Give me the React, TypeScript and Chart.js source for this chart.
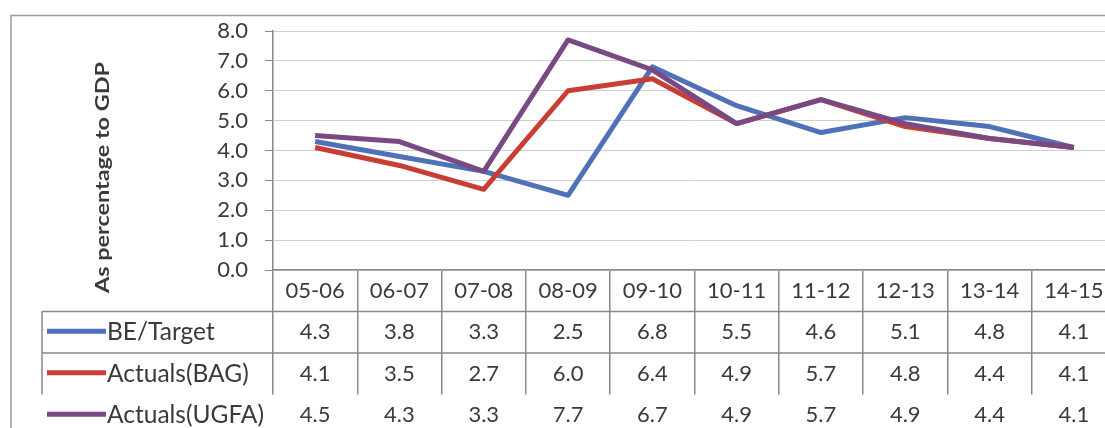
import React, { useEffect, useRef } from "react";
import { Chart, registerables } from "chart.js";

Chart.register(...registerables);

const categories = ["05-06", "06-07", "07-08", "08-09", "09-10", "10-11", "11-12", "12-13", "13-14", "14-15"];
const beTarget = [4.3, 3.8, 3.3, 2.5, 6.8, 5.5, 4.6, 5.1, 4.8, 4.1];
const actualsBAG = [4.1, 3.5, 2.7, 6.0, 6.4, 4.9, 5.7, 4.8, 4.4, 4.1];
const actualsUGFA = [4.5, 4.3, 3.3, 7.7, 6.7, 4.9, 5.7, 4.9, 4.4, 4.1];
const seriesNames = ["BE/Target", "Actuals(BAG)", "Actuals(UGFA)"];
const seriesColors = ["#4f71b8", "#c83d34", "#794984"];
const yMin = 0;
const yMax = 8;
const yStep = 1;
const yTitle = "As percentage to GDP";

const FONT = "Lato, 'Open Sans', sans-serif";
const TEXT = "#3a3a3a";
const TABLE_LINE = "#8d8686";
const ROW_H = 41.5;

const tablePlugin = {
  id: "dataTable",
  afterDraw(chart: any) {
    const ctx = chart.ctx as CanvasRenderingContext2D;
    const xs = chart.scales.x;
    const top = xs.top;
    ctx.save();

    // outer frame
    ctx.strokeStyle = "#9a9a9a";
    ctx.lineWidth = 1.5;
    ctx.beginPath();
    ctx.moveTo(11, chart.height + 5);
    ctx.lineTo(11, 15.5);
    ctx.lineTo(chart.width + 5, 15.5);
    ctx.stroke();

    // y title (rotated)
    ctx.save();
    ctx.fillStyle = TEXT;
    ctx.font = `bold 19px ${FONT}`;
    const w = ctx.measureText(yTitle).width;
    ctx.translate(109, 177.5);
    ctx.rotate(-Math.PI / 2);
    ctx.scale(231 / w, 1);
    ctx.textAlign = "center";
    ctx.textBaseline = "alphabetic";
    ctx.fillText(yTitle, 0, 0);
    ctx.restore();

    // table lines
    ctx.strokeStyle = TABLE_LINE;
    ctx.lineWidth = 1.5;
    ctx.beginPath();
    for (let r = 1; r <= 2; r++) {
      const y = top + ROW_H * r;
      ctx.moveTo(42, y);
      ctx.lineTo(xs.right, y);
    }
    ctx.moveTo(42, top + ROW_H);
    ctx.lineTo(42, top + ROW_H * 3);
    ctx.stroke();

    const series = [beTarget, actualsBAG, actualsUGFA];
    ctx.textBaseline = "middle";
    series.forEach((vals, r) => {
      const yc = top + ROW_H * (r + 1) + ROW_H / 2;
      // legend key
      ctx.strokeStyle = seriesColors[r];
      ctx.lineWidth = 5;
      ctx.lineCap = "butt";
      ctx.beginPath();
      ctx.moveTo(47, yc - 1);
      ctx.lineTo(106, yc - 1);
      ctx.stroke();
      ctx.fillStyle = TEXT;
      ctx.textAlign = "left";
      ctx.font = `24.5px ${FONT}`;
      ctx.fillText(seriesNames[r], 107, yc);
      ctx.textAlign = "center";
      ctx.font = `22px ${FONT}`;
      vals.forEach((v, i) => {
        ctx.fillText(v.toFixed(1), xs.getPixelForValue(i), yc);
      });
    });
    ctx.restore();
  },
};

export default function App() {
  const ref = useRef<HTMLCanvasElement | null>(null);

  useEffect(() => {
    if (!ref.current) return;
    const chart = new Chart(ref.current, {
      type: "line",
      data: {
        labels: categories,
        datasets: [
          { label: seriesNames[0], data: beTarget, borderColor: seriesColors[0], order: 2 },
          { label: seriesNames[1], data: actualsBAG, borderColor: seriesColors[1], order: 1 },
          { label: seriesNames[2], data: actualsUGFA, borderColor: seriesColors[2], order: 0 },
        ].map((d) => ({
          ...d,
          backgroundColor: d.borderColor,
          borderWidth: 5,
          pointRadius: 0,
          tension: 0,
          fill: false,
          borderJoinStyle: "round" as const,
          borderCapStyle: "butt" as const,
        })),
      },
      options: {
        animation: false,
        responsive: false,
        layout: { padding: { top: 31, left: 0, right: 14, bottom: 0 } },
        plugins: { legend: { display: false }, tooltip: { enabled: false } },
        scales: {
          x: {
            type: "category",
            offset: true,
            grid: {
              display: true,
              drawOnChartArea: false,
              drawTicks: true,
              tickLength: ROW_H * 3,
              color: TABLE_LINE,
              lineWidth: 1.5,
              offset: true,
            },
            border: { display: true, color: TABLE_LINE, width: 1.5 },
            ticks: {
              color: TEXT,
              font: { family: FONT, size: 22 },
              padding: -(ROW_H * 3) + ROW_H / 2 - 13.2,
              maxRotation: 0,
              autoSkip: false,
            },
            afterFit: (axis: any) => {
              axis.height = 428 - 270;
            },
          },
          y: {
            min: yMin,
            max: yMax,
            ticks: {
              stepSize: yStep,
              color: TEXT,
              font: { family: FONT, size: 22 },
              padding: 17,
              callback: (v: any) => Number(v).toFixed(1),
            },
            grid: {
              color: "#cfcfcf",
              lineWidth: 1,
              tickColor: TABLE_LINE,
              tickLength: 8,
            },
            border: { display: true, color: TABLE_LINE, width: 1.5 },
            afterFit: (axis: any) => {
              axis.width = 273;
            },
          },
        },
      },
      plugins: [tablePlugin],
    });
    return () => chart.destroy();
  }, []);

  return (
    <div
      style={{
        position: "fixed",
        left: 0,
        top: 0,
        width: 1105,
        height: 428,
        overflow: "hidden",
        background: "#fff",
      }}
    >
      <canvas ref={ref} width={1130} height={428} style={{ display: "block" }} />
    </div>
  );
}
